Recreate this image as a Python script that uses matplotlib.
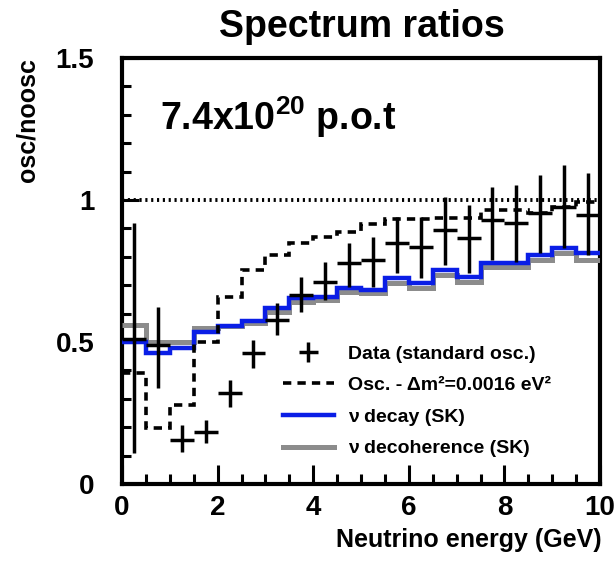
import matplotlib
matplotlib.use("Agg")
import matplotlib.pyplot as plt
from matplotlib.ticker import MultipleLocator, FixedLocator

plt.rcParams['font.family'] = ['Liberation Sans', 'DejaVu Sans']
plt.rcParams['font.weight'] = 'bold'
plt.rcParams['mathtext.fontset'] = 'custom'
plt.rcParams['mathtext.rm'] = 'Liberation Sans:bold'
plt.rcParams['mathtext.it'] = 'Liberation Sans:bold'
plt.rcParams['mathtext.bf'] = 'Liberation Sans:bold'

# ---- data ----
bin_edges = [0.0, 0.5, 1.0, 1.5, 2.0, 2.5, 3.0, 3.5, 4.0, 4.5, 5.0,
             5.5, 6.0, 6.5, 7.0, 7.5, 8.0, 8.5, 9.0, 9.5, 10.0]
data_x = [0.25, 0.75, 1.25, 1.75, 2.25, 2.75, 3.25, 3.75, 4.25, 4.75,
          5.25, 5.75, 6.25, 6.75, 7.25, 7.75, 8.25, 8.75, 9.25, 9.75]
data_y = [0.51, 0.49, 0.155, 0.184, 0.32, 0.46, 0.577, 0.665, 0.712, 0.777,
          0.789, 0.847, 0.836, 0.894, 0.865, 0.93, 0.918, 0.953, 0.977, 0.947]
data_lo = [0.11, 0.337, 0.114, 0.144, 0.272, 0.408, 0.525, 0.607, 0.648, 0.695,
           0.695, 0.742, 0.725, 0.771, 0.742, 0.789, 0.783, 0.812, 0.83, 0.806]
data_hi = [0.92, 0.624, 0.208, 0.225, 0.366, 0.507, 0.637, 0.73, 0.783, 0.847,
           0.871, 0.94, 0.94, 1.01, 0.982, 1.047, 1.053, 1.088, 1.123, 1.094]
osc_dm2 = [0.39, 0.196, 0.278, 0.50, 0.66, 0.754, 0.806, 0.847, 0.871, 0.888,
           0.915, 0.932, 0.932, 0.935, 0.935, 0.965, 0.965, 0.953, 0.977, 0.994]
nu_decay = [0.50, 0.462, 0.478, 0.536, 0.555, 0.575, 0.618, 0.654, 0.66, 0.689,
            0.683, 0.724, 0.707, 0.754, 0.73, 0.777, 0.777, 0.806, 0.83, 0.812]
nu_decoh = [0.56, 0.50, 0.50, 0.548, 0.555, 0.567, 0.607, 0.642, 0.648, 0.677,
            0.671, 0.707, 0.689, 0.736, 0.712, 0.765, 0.765, 0.789, 0.812, 0.789]
x_ticks = [0, 2, 4, 6, 8, 10]
x_tick_labels = ['0', '2', '4', '6', '8', '10']
y_ticks = [0, 0.5, 1.0, 1.5]
y_tick_labels = ['0', '0.5', '1', '1.5']

W, H = 614, 562
fig = plt.figure(figsize=(W / 100, H / 100), dpi=100)
ax = fig.add_axes([122 / W, 1 - 484 / H, 478 / W, 426 / H])

# reference line at 1
ax.axhline(1.0, color='black', lw=2.8, linestyle=(0, (0.55, 0.95)), zorder=2)

ax.stairs(nu_decoh, bin_edges, baseline=None, color='#8c8c8c', lw=3.6, zorder=3,
          label='ν decoherence (SK)')
ax.stairs(nu_decay, bin_edges, baseline=None, color='#0a1ee6', lw=3.2, zorder=4,
          label='ν decay (SK)')
ax.stairs(osc_dm2, bin_edges, baseline=None, color='black', lw=2.6,
          linestyle=(0, (2.3, 1.7)), zorder=5,
          label='Osc. - Δm²=0.0016 eV²')

yerr = [[y - lo for y, lo in zip(data_y, data_lo)],
        [hi - y for y, hi in zip(data_y, data_hi)]]
ax.errorbar(data_x, data_y, xerr=0.25, yerr=yerr, fmt='none', ecolor='black',
            elinewidth=2.5, capsize=0, zorder=6, label='Data (standard osc.)')

ax.set_xlim(0, 10)
ax.set_ylim(0, 1.5)

ax.xaxis.set_major_locator(FixedLocator(x_ticks))
ax.set_xticklabels(x_tick_labels)
ax.xaxis.set_minor_locator(MultipleLocator(0.5))
ax.yaxis.set_major_locator(FixedLocator(y_ticks))
ax.set_yticklabels(y_tick_labels)
ax.yaxis.set_minor_locator(MultipleLocator(0.1))

ax.tick_params(axis='x', which='major', direction='in', length=14, width=2.2,
               labelsize=20, pad=8, top=False)
ax.tick_params(axis='x', which='minor', direction='in', length=7, width=2.2, top=False)
ax.tick_params(axis='y', which='major', direction='in', length=12, width=2.2,
               labelsize=20, pad=20, right=False)
ax.tick_params(axis='y', which='minor', direction='in', length=6.5, width=2.2, right=False)
for lab in ax.get_xticklabels() + ax.get_yticklabels():
    lab.set_fontweight('bold')

for s in ax.spines.values():
    s.set_linewidth(3)

fig.text(362 / W, 1 - 27 / H, 'Spectrum ratios', ha='center', va='center',
         fontsize=27, fontweight='bold')
fig.text(27 / W, 1 - 58 / H, 'osc/noosc', rotation=90, ha='center', va='top',
         fontsize=18, fontweight='bold')
fig.text(602 / W, 1 - 540 / H, 'Neutrino energy (GeV)', ha='right', va='center',
         fontsize=18, fontweight='bold')
ax.text(0.8, 1.29, '7.4x10$^{20}$ p.o.t', transform=ax.transData,
        ha='left', va='center', fontsize=27, fontweight='bold')

handles, labels = ax.get_legend_handles_labels()
order = [3, 2, 1, 0]
leg = ax.legend([handles[i] for i in order], [labels[i] for i in order],
                loc='upper left', bbox_to_anchor=(283 / W, 1 - 345 / H),
                bbox_transform=fig.transFigure, frameon=False, fontsize=14,
                borderpad=0, borderaxespad=0, handlelength=2.6, handletextpad=0.75,
                labelspacing=0.72)
for t in leg.get_texts():
    t.set_fontweight('bold')

fig.savefig('out.png', dpi=100)
